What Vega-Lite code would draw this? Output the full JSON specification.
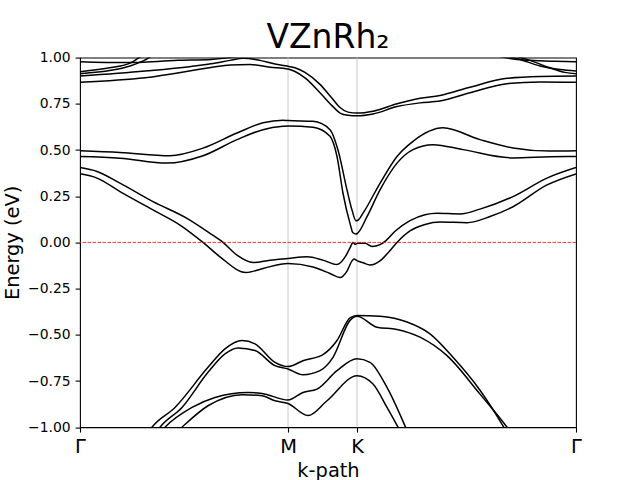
{
  "$schema": "https://vega.github.io/schema/vega-lite/v6.json",
  "width": 496,
  "height": 369.6,
  "autosize": {"type": "none"},
  "padding": {"left": 80, "top": 57.6, "right": 64, "bottom": 52.8},
  "background": "white",
  "title": {"text": "VZnRh₂", "fontSize": 33, "font": "DejaVu Sans", "fontWeight": "normal", "color": "black", "anchor": "middle", "offset": -4},
  "config": {
    "view": {"stroke": "black", "strokeWidth": 1.1},
    "axis": {"grid": false, "domain": false, "tickColor": "black", "tickWidth": 1.1, "tickSize": 4.9, "labelPadding": 4.9, "labelColor": "black", "titleColor": "black", "labelFont": "DejaVu Sans", "titleFont": "DejaVu Sans", "titleFontWeight": "normal", "labelFlush": false, "labelOverlap": false}
  },
  "layer": [
    {
      "data": {"values": [{"k": 208}, {"k": 277}]},
      "mark": {"type": "rule", "color": "#c8c8c8", "strokeWidth": 1},
      "encoding": {"x": {"field": "k", "type": "quantitative", "scale": {"domain": [0, 496], "nice": false, "zero": false}}}
    },
    {
      "data": {"values": [
        {"b":"A1","k":0,"e":0.405},{"b":"A1","k":17,"e":0.384},{"b":"A1","k":40,"e":0.321},{"b":"A1","k":73,"e":0.221},{"b":"A1","k":107,"e":0.13},{"b":"A1","k":130,"e":0.049},{"b":"A1","k":143,"e":0.0},{"b":"A1","k":157,"e":-0.069},{"b":"A1","k":173,"e":-0.109},{"b":"A1","k":190,"e":-0.096},{"b":"A1","k":208,"e":-0.087},{"b":"A1","k":227,"e":-0.078},{"b":"A1","k":243,"e":-0.096},{"b":"A1","k":257,"e":-0.12},{"b":"A1","k":265,"e":-0.08},{"b":"A1","k":270,"e":-0.03},{"b":"A1","k":273,"e":0.0},{"b":"A1","k":275,"e":-0.01},{"b":"A1","k":277.5,"e":-0.005},{"b":"A1","k":285,"e":-0.005},{"b":"A1","k":292,"e":-0.022},{"b":"A1","k":300,"e":-0.012},{"b":"A1","k":306,"e":0.01},{"b":"A1","k":315,"e":0.06},{"b":"A1","k":330,"e":0.118},{"b":"A1","k":345,"e":0.15},{"b":"A1","k":357,"e":0.158},{"b":"A1","k":380,"e":0.154},{"b":"A1","k":400,"e":0.18},{"b":"A1","k":433,"e":0.248},{"b":"A1","k":467,"e":0.348},{"b":"A1","k":496,"e":0.405},
        {"b":"A2","k":0,"e":0.371},{"b":"A2","k":17,"e":0.348},{"b":"A2","k":40,"e":0.275},{"b":"A2","k":73,"e":0.176},{"b":"A2","k":100,"e":0.094},{"b":"A2","k":123,"e":0.0},{"b":"A2","k":140,"e":-0.078},{"b":"A2","k":166,"e":-0.163},{"b":"A2","k":183,"e":-0.141},{"b":"A2","k":208,"e":-0.114},{"b":"A2","k":233,"e":-0.133},{"b":"A2","k":250,"e":-0.168},{"b":"A2","k":260,"e":-0.19},{"b":"A2","k":267,"e":-0.155},{"b":"A2","k":272,"e":-0.1},{"b":"A2","k":274,"e":-0.09},{"b":"A2","k":277.5,"e":-0.1},{"b":"A2","k":283,"e":-0.11},{"b":"A2","k":290,"e":-0.122},{"b":"A2","k":300,"e":-0.1},{"b":"A2","k":309,"e":-0.05},{"b":"A2","k":317,"e":0.0},{"b":"A2","k":330,"e":0.062},{"b":"A2","k":345,"e":0.097},{"b":"A2","k":360,"e":0.11},{"b":"A2","k":387,"e":0.107},{"b":"A2","k":410,"e":0.14},{"b":"A2","k":433,"e":0.193},{"b":"A2","k":467,"e":0.311},{"b":"A2","k":496,"e":0.371},
        {"b":"B1","k":0,"e":0.496},{"b":"B1","k":40,"e":0.487},{"b":"B1","k":90,"e":0.469},{"b":"B1","k":123,"e":0.51},{"b":"B1","k":157,"e":0.592},{"b":"B1","k":183,"e":0.647},{"b":"B1","k":203,"e":0.661},{"b":"B1","k":208,"e":0.659},{"b":"B1","k":233,"e":0.655},{"b":"B1","k":250,"e":0.61},{"b":"B1","k":258,"e":0.5},{"b":"B1","k":267,"e":0.284},{"b":"B1","k":272,"e":0.175},{"b":"B1","k":276,"e":0.117},{"b":"B1","k":278,"e":0.12},{"b":"B1","k":283,"e":0.158},{"b":"B1","k":300,"e":0.32},{"b":"B1","k":317,"e":0.465},{"b":"B1","k":333,"e":0.547},{"b":"B1","k":363,"e":0.62},{"b":"B1","k":400,"e":0.556},{"b":"B1","k":433,"e":0.511},{"b":"B1","k":470,"e":0.494},{"b":"B1","k":496,"e":0.496},
        {"b":"B2","k":0,"e":0.465},{"b":"B2","k":40,"e":0.456},{"b":"B2","k":87,"e":0.429},{"b":"B2","k":123,"e":0.469},{"b":"B2","k":157,"e":0.556},{"b":"B2","k":183,"e":0.61},{"b":"B2","k":203,"e":0.628},{"b":"B2","k":208,"e":0.63},{"b":"B2","k":233,"e":0.623},{"b":"B2","k":250,"e":0.574},{"b":"B2","k":257,"e":0.465},{"b":"B2","k":263,"e":0.266},{"b":"B2","k":270,"e":0.103},{"b":"B2","k":273,"e":0.052},{"b":"B2","k":276,"e":0.045},{"b":"B2","k":278,"e":0.052},{"b":"B2","k":287,"e":0.139},{"b":"B2","k":300,"e":0.284},{"b":"B2","k":317,"e":0.429},{"b":"B2","k":333,"e":0.502},{"b":"B2","k":353,"e":0.529},{"b":"B2","k":383,"e":0.502},{"b":"B2","k":433,"e":0.457},{"b":"B2","k":470,"e":0.463},{"b":"B2","k":496,"e":0.465},
        {"b":"C1","k":0,"e":0.9},{"b":"C1","k":65,"e":0.927},{"b":"C1","k":131,"e":0.967},{"b":"C1","k":150,"e":0.985},{"b":"C1","k":163,"e":0.997},{"b":"C1","k":180,"e":0.985},{"b":"C1","k":195,"e":0.965},{"b":"C1","k":208,"e":0.953},{"b":"C1","k":215,"e":0.945},{"b":"C1","k":225,"e":0.92},{"b":"C1","k":240,"e":0.855},{"b":"C1","k":252,"e":0.78},{"b":"C1","k":260,"e":0.73},{"b":"C1","k":268,"e":0.705},{"b":"C1","k":277,"e":0.7},{"b":"C1","k":293,"e":0.71},{"b":"C1","k":317,"e":0.75},{"b":"C1","k":340,"e":0.78},{"b":"C1","k":360,"e":0.795},{"b":"C1","k":390,"e":0.84},{"b":"C1","k":427,"e":0.888},{"b":"C1","k":460,"e":0.898},{"b":"C1","k":496,"e":0.9},
        {"b":"C2","k":0,"e":0.866},{"b":"C2","k":65,"e":0.891},{"b":"C2","k":131,"e":0.946},{"b":"C2","k":150,"e":0.96},{"b":"C2","k":170,"e":0.962},{"b":"C2","k":190,"e":0.948},{"b":"C2","k":208,"e":0.938},{"b":"C2","k":215,"e":0.925},{"b":"C2","k":225,"e":0.89},{"b":"C2","k":240,"e":0.81},{"b":"C2","k":252,"e":0.74},{"b":"C2","k":260,"e":0.7},{"b":"C2","k":268,"e":0.688},{"b":"C2","k":277,"e":0.685},{"b":"C2","k":293,"e":0.695},{"b":"C2","k":317,"e":0.735},{"b":"C2","k":340,"e":0.755},{"b":"C2","k":360,"e":0.765},{"b":"C2","k":390,"e":0.81},{"b":"C2","k":427,"e":0.859},{"b":"C2","k":460,"e":0.868},{"b":"C2","k":496,"e":0.866},
        {"b":"L1","k":0,"e":0.978},{"b":"L1","k":45,"e":0.973},{"b":"L1","k":98,"e":0.985},{"b":"L1","k":131,"e":0.99},{"b":"L1","k":150,"e":1.0},{"b":"L1","k":170,"e":1.02},
        {"b":"L2","k":0,"e":0.924},{"b":"L2","k":31,"e":0.946},{"b":"L2","k":50,"e":0.97},{"b":"L2","k":58,"e":0.996},{"b":"L2","k":65,"e":1.02},
        {"b":"L3","k":0,"e":0.913},{"b":"L3","k":31,"e":0.931},{"b":"L3","k":50,"e":0.955},{"b":"L3","k":68,"e":0.996},{"b":"L3","k":75,"e":1.02},
        {"b":"R1","k":410,"e":1.02},{"b":"R1","k":430,"e":0.995},{"b":"R1","k":450,"e":0.985},{"b":"R1","k":475,"e":0.98},{"b":"R1","k":496,"e":0.978},
        {"b":"R2","k":418,"e":1.02},{"b":"R2","k":440,"e":0.99},{"b":"R2","k":460,"e":0.955},{"b":"R2","k":480,"e":0.935},{"b":"R2","k":496,"e":0.927},
        {"b":"R3","k":428,"e":1.02},{"b":"R3","k":450,"e":0.985},{"b":"R3","k":470,"e":0.945},{"b":"R3","k":485,"e":0.92},{"b":"R3","k":496,"e":0.913},
        {"b":"D1","k":68,"e":-1.03},{"b":"D1","k":72,"e":-1.0},{"b":"D1","k":95,"e":-0.893},{"b":"D1","k":128,"e":-0.676},{"b":"D1","k":145,"e":-0.576},{"b":"D1","k":162,"e":-0.531},{"b":"D1","k":175,"e":-0.549},{"b":"D1","k":195,"e":-0.649},{"b":"D1","k":208,"e":-0.672},{"b":"D1","k":223,"e":-0.64},{"b":"D1","k":243,"e":-0.607},{"b":"D1","k":257,"e":-0.531},{"b":"D1","k":270,"e":-0.408},{"b":"D1","k":277,"e":-0.395},{"b":"D1","k":300,"e":-0.4},{"b":"D1","k":327,"e":-0.431},{"b":"D1","k":350,"e":-0.495},{"b":"D1","k":373,"e":-0.622},{"b":"D1","k":400,"e":-0.8},{"b":"D1","k":423,"e":-0.993},{"b":"D1","k":427,"e":-1.03},
        {"b":"D2","k":76,"e":-1.03},{"b":"D2","k":80,"e":-1.0},{"b":"D2","k":102,"e":-0.893},{"b":"D2","k":128,"e":-0.703},{"b":"D2","k":145,"e":-0.603},{"b":"D2","k":158,"e":-0.571},{"b":"D2","k":175,"e":-0.585},{"b":"D2","k":195,"e":-0.667},{"b":"D2","k":208,"e":-0.685},{"b":"D2","k":223,"e":-0.716},{"b":"D2","k":240,"e":-0.694},{"b":"D2","k":253,"e":-0.622},{"b":"D2","k":270,"e":-0.422},{"b":"D2","k":277,"e":-0.4},{"b":"D2","k":297,"e":-0.459},{"b":"D2","k":317,"e":-0.471},{"b":"D2","k":340,"e":-0.513},{"b":"D2","k":367,"e":-0.613},{"b":"D2","k":400,"e":-0.821},{"b":"D2","k":427,"e":-1.0},{"b":"D2","k":431,"e":-1.03},
        {"b":"E1","k":80,"e":-1.03},{"b":"E1","k":85,"e":-1.0},{"b":"E1","k":112,"e":-0.893},{"b":"E1","k":135,"e":-0.839},{"b":"E1","k":168,"e":-0.812},{"b":"E1","k":182,"e":-0.817},{"b":"E1","k":208,"e":-0.853},{"b":"E1","k":223,"e":-0.812},{"b":"E1","k":237,"e":-0.794},{"b":"E1","k":257,"e":-0.694},{"b":"E1","k":277,"e":-0.63},{"b":"E1","k":290,"e":-0.649},{"b":"E1","k":307,"e":-0.785},{"b":"E1","k":325,"e":-0.993},{"b":"E1","k":328,"e":-1.03},
        {"b":"E2","k":96,"e":-1.03},{"b":"E2","k":102,"e":-1.0},{"b":"E2","k":128,"e":-0.884},{"b":"E2","k":162,"e":-0.824},{"b":"E2","k":182,"e":-0.83},{"b":"E2","k":195,"e":-0.857},{"b":"E2","k":208,"e":-0.872},{"b":"E2","k":228,"e":-0.937},{"b":"E2","k":247,"e":-0.857},{"b":"E2","k":277,"e":-0.721},{"b":"E2","k":293,"e":-0.766},{"b":"E2","k":307,"e":-0.893},{"b":"E2","k":318,"e":-1.0},{"b":"E2","k":321,"e":-1.03}
      ]},
      "mark": {"type": "line", "color": "black", "strokeWidth": 1.5, "interpolate": "monotone", "clip": true},
      "encoding": {
        "x": {"field": "k", "type": "quantitative", "scale": {"domain": [0, 496], "nice": false, "zero": false},
          "axis": {"values": [0, 208, 277, 496], "labelExpr": "datum.value == 208 ? 'M' : datum.value == 277 ? 'K' : 'Γ'", "title": "k-path", "labelFontSize": 19.4, "titleFontSize": 19.4, "titlePadding": 5.6}},
        "y": {"field": "e", "type": "quantitative", "scale": {"domain": [-1, 1], "nice": false, "zero": false},
          "axis": {"values": [-1, -0.75, -0.5, -0.25, 0, 0.25, 0.5, 0.75, 1], "format": ".2f", "title": "Energy (eV)", "labelFontSize": 13.9, "titleFontSize": 19.4, "titlePadding": 5.6}},
        "detail": {"field": "b", "type": "nominal"}
      }
    },
    {
      "data": {"values": [{"e": 0}]},
      "mark": {"type": "rule", "color": "red", "strokeWidth": 0.8, "strokeDash": [3.5, 1.5]},
      "encoding": {"y": {"field": "e", "type": "quantitative"}}
    }
  ]
}
